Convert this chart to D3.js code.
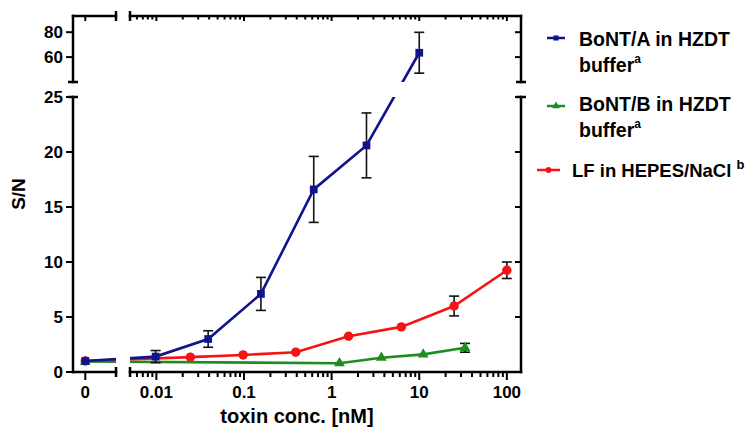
<!DOCTYPE html>
<html><head><meta charset="utf-8">
<script src="https://cdn.jsdelivr.net/npm/d3@7"></script>
<style>
html,body{margin:0;padding:0;background:#fff;}
svg text{font-family:"Liberation Sans",Arial,sans-serif;font-weight:bold;fill:#000;}
</style></head>
<body>
<svg id="chart" width="755" height="431"></svg>
<script>
// ---------- data ----------
const concA = [0, 0.0098, 0.039, 0.156, 0.625, 2.5, 10];
const meanA = [1.0, 1.4, 3.0, 7.1, 16.6, 20.6, 63.5];
const errA  = [0, 0.55, 0.75, 1.5, 3.0, 2.95, 16.4];

const concB = [0, 1.23, 3.7, 11.1, 33.3];
const meanB = [0.95, 0.8, 1.3, 1.6, 2.2];
const errB  = [0, 0, 0, 0, 0.4];

const concLF = [0, 0.0244, 0.0977, 0.39, 1.56, 6.25, 25, 100];
const meanLF = [1.0, 1.35, 1.55, 1.8, 3.25, 4.1, 6.0, 9.25];
const errLF  = [0, 0, 0, 0, 0, 0, 0.9, 0.75];

const seriesNames = ["BoNT/A in HZDT", "BoNT/B in HZDT", "LF in HEPES/NaCl"];
const xMajorTicks = [0.01, 0.1, 1, 10, 100];
const xMajorLabels = ["0.01", "0.1", "1", "10", "100"];
const yLowTicks = [0, 5, 10, 15, 20, 25];
const yHighTicks = [60, 80];

// ---------- layout ----------
const svg = d3.select("#chart");
const L = 73, R = 521, B = 372, T = 16;
const seg1End = 116, seg2Start = 130;
const yBreakLow = 97, yBreakHigh = 82;

const xZero = d3.scaleLinear().domain([-0.4, 1.0]).range([L, seg1End]);
const xLog = d3.scaleLog().domain([0.005, 145]).range([seg2Start, R]);
const yLow = d3.scaleLinear().domain([0, 25]).range([B, yBreakLow]);
const yHigh = d3.scaleLinear().domain([40, 93]).range([yBreakHigh, T]);
const X = v => v === 0 ? xZero(0) : xLog(v);
const Y = v => v <= 25 ? yLow(v) : yHigh(v);

const minorTicks = [];
[0.001, 0.01, 0.1, 1, 10].forEach(d => {
  for (let k = 2; k <= 9; k++) {
    const v = +(d * k).toPrecision(3);
    if (v > 0.005 && v < 100 && !xMajorTicks.includes(v)) minorTicks.push(v);
  }
});

// clip for lines (broken axes)
const defs = svg.append("defs");
const cp = defs.append("clipPath").attr("id", "brk");
[[L, seg1End], [seg2Start, R]].forEach(([x0, x1]) => {
  [[T, yBreakHigh], [yBreakLow, B + 10]].forEach(([y0, y1]) => {
    cp.append("rect").attr("x", x0).attr("y", y0).attr("width", x1 - x0).attr("height", y1 - y0);
  });
});

const AX = 2.5;
const ax = svg.append("g").attr("stroke", "#000").attr("stroke-linecap", "square");
function seg(x1, y1, x2, y2, w) {
  ax.append("line").attr("x1", x1).attr("y1", y1).attr("x2", x2).attr("y2", y2).attr("stroke-width", w || AX);
}
// axis lines
seg(L, B, seg1End, B); seg(seg2Start, B, R, B);
seg(L, T, seg1End, T); seg(seg2Start, T, R, T);
seg(L, B, L, yBreakLow); seg(L, yBreakHigh, L, T);
seg(R, B, R, yBreakLow); seg(R, yBreakHigh, R, T);

// x ticks (bottom outward, top inward)
const xt = svg.append("g").attr("stroke", "#000").attr("stroke-width", 2);
[{v: 0, x: xZero(0)}].concat(xMajorTicks.map(v => ({v, x: xLog(v)}))).forEach(t => {
  xt.append("line").attr("x1", t.x).attr("x2", t.x).attr("y1", B).attr("y2", B + 8);
  xt.append("line").attr("x1", t.x).attr("x2", t.x).attr("y1", T).attr("y2", T + 5);
});
minorTicks.forEach(v => {
  const x = xLog(v);
  xt.append("line").attr("x1", x).attr("x2", x).attr("y1", B).attr("y2", B + 5);
  xt.append("line").attr("x1", x).attr("x2", x).attr("y1", T).attr("y2", T + 3.5);
});
// x labels
svg.append("text").attr("x", xZero(0)).attr("y", 398).attr("text-anchor", "middle").style("font-size", "17px").text("0");
xMajorTicks.forEach((v, i) => {
  svg.append("text").attr("x", xLog(v)).attr("y", 398).attr("text-anchor", "middle").style("font-size", "17px").text(xMajorLabels[i]);
});

// y ticks
const yt = svg.append("g").attr("stroke", "#000").attr("stroke-width", 2);
const yTickList = yLowTicks.map(v => ({v, y: yLow(v)})).concat(yHighTicks.map(v => ({v, y: yHigh(v)})));
yTickList.forEach(t => {
  yt.append("line").attr("x1", L - 7).attr("x2", L).attr("y1", t.y).attr("y2", t.y);
  yt.append("line").attr("x1", R - 6).attr("x2", R).attr("y1", t.y).attr("y2", t.y);
  svg.append("text").attr("x", L - 10).attr("y", t.y).attr("dy", "0.36em").attr("text-anchor", "end")
    .style("font-size", "17px").text(t.v);
});

// break caps
const caps = svg.append("g").attr("stroke", "#000").attr("stroke-width", 2.5);
[seg1End, seg2Start].forEach(x => {
  [B, T].forEach(y => caps.append("line").attr("x1", x).attr("x2", x).attr("y1", y - 5).attr("y2", y + 5));
});
[L, R].forEach(x => {
  [yBreakLow, yBreakHigh].forEach(y => caps.append("line").attr("x1", x - 5).attr("x2", x + 5).attr("y1", y).attr("y2", y));
});

// axis titles
svg.append("text").attr("x", (L + R) / 2).attr("y", 423).attr("text-anchor", "middle")
  .style("font-size", "20px").text("toxin conc. [nM]");
svg.append("text").attr("transform", `translate(25,${(T + B) / 2}) rotate(-90)`).attr("text-anchor", "middle")
  .style("font-size", "19px").text("S/N");

// ---------- series ----------
const series = [
  {conc: concB, mean: meanB, err: errB, color: "#1e8c1e", sym: d3.symbolTriangle, size: 50},
  {conc: concLF, mean: meanLF, err: errLF, color: "#f41414", sym: d3.symbolCircle, size: 70},
  {conc: concA, mean: meanA, err: errA, color: "#10148c", sym: d3.symbolSquare, size: 60},
];
const line = d3.line().x(d => X(d.c)).y(d => Y(d.m));
series.forEach(s => {
  const pts = s.conc.map((c, i) => ({c, m: s.mean[i], e: s.err[i]}));
  svg.append("path").datum(pts).attr("d", line).attr("fill", "none")
    .attr("stroke", s.color).attr("stroke-width", 2.6).attr("clip-path", "url(#brk)");
  const eb = svg.append("g").attr("stroke", "#111").attr("stroke-width", 1.6);
  pts.filter(p => p.e > 0).forEach(p => {
    const x = X(p.c), y1 = Y(p.m + p.e), y2 = Y(p.m - p.e);
    eb.append("line").attr("x1", x).attr("x2", x).attr("y1", y1).attr("y2", y2);
    eb.append("line").attr("x1", x - 5).attr("x2", x + 5).attr("y1", y1).attr("y2", y1);
    eb.append("line").attr("x1", x - 5).attr("x2", x + 5).attr("y1", y2).attr("y2", y2);
  });
  svg.append("g").selectAll("path").data(pts).join("path")
    .attr("transform", p => `translate(${X(p.c)},${Y(p.m)})`)
    .attr("d", d3.symbol().type(s.sym).size(s.size)).attr("fill", s.color);
});

// ---------- legend ----------
const leg = [
  {name: seriesNames[0], sup: "a", color: "#10148c", sym: d3.symbolSquare, x1: 547, x2: 565, y: 38, tx: 579, b1: 46, b2: 72},
  {name: seriesNames[1], sup: "a", color: "#1e8c1e", sym: d3.symbolTriangle, x1: 547, x2: 565, y: 106, tx: 579, b1: 111, b2: 137},
  {name: seriesNames[2], sup: "b", color: "#f41414", sym: d3.symbolCircle, x1: 537, x2: 560, y: 170, tx: 572, b1: 177, b2: null},
];
leg.forEach(l => {
  svg.append("line").attr("x1", l.x1).attr("x2", l.x2).attr("y1", l.y).attr("y2", l.y)
    .attr("stroke", l.color).attr("stroke-width", 2.5);
  svg.append("path").attr("transform", `translate(${(l.x1 + l.x2) / 2},${l.y})`)
    .attr("d", d3.symbol().type(l.sym).size(26)).attr("fill", l.color);
  if (l.b2) {
    svg.append("text").attr("x", l.tx).attr("y", l.b1).style("font-size", "19.5px").text(l.name);
    const t = svg.append("text").attr("x", l.tx).attr("y", l.b2).style("font-size", "19.5px");
    t.append("tspan").text("buffer");
    t.append("tspan").attr("dy", -9).style("font-size", "12px").text(l.sup);
  } else {
    const t = svg.append("text").attr("x", l.tx).attr("y", l.b1).style("font-size", "18.5px");
    t.append("tspan").text(l.name + " ");
    t.append("tspan").attr("dy", -8).style("font-size", "13px").text(l.sup);
  }
});
</script>
</body></html>
